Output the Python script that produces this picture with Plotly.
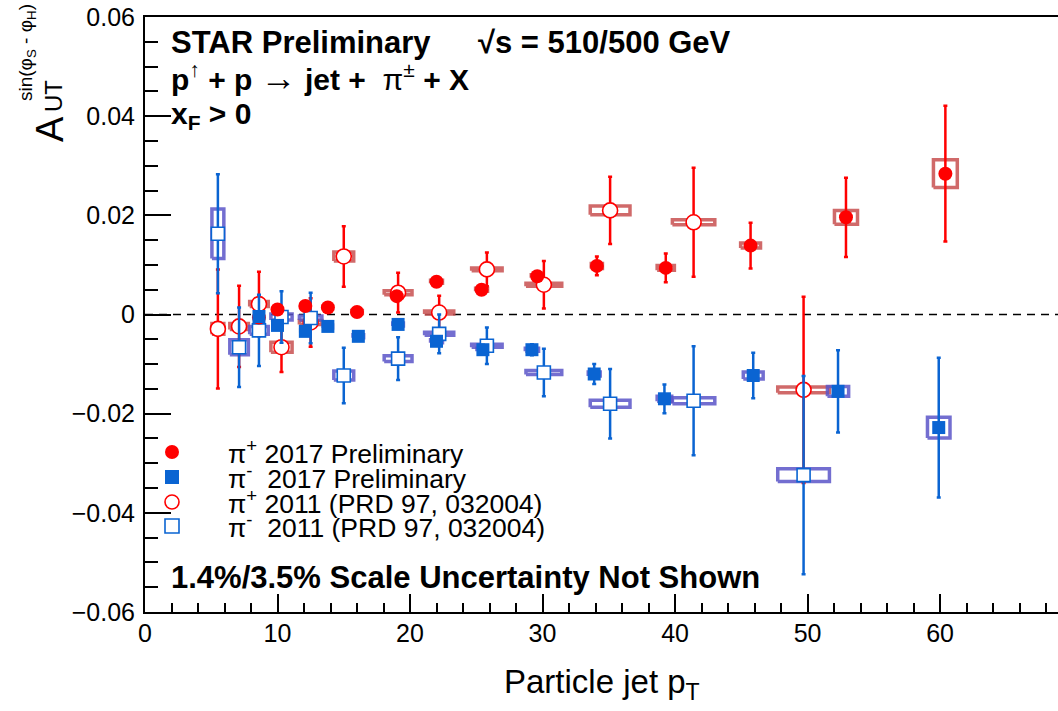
import plotly.graph_objects as go

# ---------------- data ----------------
# 2017 preliminary, pi+
pip17_x = [8.6, 10.0, 12.1, 13.8, 16.0, 19.0, 22.0, 25.4, 29.6, 34.1, 39.3, 45.7, 52.9, 60.4]
pip17_y = [-0.0006, 0.0010, 0.0017, 0.0014, 0.0005, 0.0037, 0.0066, 0.0050, 0.0077, 0.0098, 0.0094, 0.0139, 0.0196, 0.0284]
pip17_stat = [0.0007, 0.0007, 0.0007, 0.0008, 0.0008, 0.0008, 0.0008, 0.0009, 0.0010, 0.0019, 0.0029, 0.0046, 0.0080, 0.0137]
pip17_sysy = [0.0003, 0.0003, 0.0003, 0.0003, 0.0003, 0.0003, 0.0003, 0.0003, 0.0003, 0.0005, 0.0005, 0.0005, 0.0014, 0.0028]
pip17_sysx = [0.30, 0.30, 0.35, 0.35, 0.40, 0.40, 0.45, 0.45, 0.45, 0.42, 0.65, 0.75, 0.87, 0.90]

# 2017 preliminary, pi-
pim17_x = [8.6, 10.0, 12.1, 13.8, 16.1, 19.1, 22.0, 25.5, 29.2, 33.9, 39.2, 45.9, 52.3, 59.9]
pim17_y = [-0.0004, -0.0022, -0.0034, -0.0024, -0.0044, -0.0020, -0.0054, -0.0071, -0.0071, -0.0120, -0.0170, -0.0123, -0.0155, -0.0228]
pim17_stat = [0.0007, 0.0008, 0.0008, 0.0008, 0.0009, 0.0009, 0.0009, 0.0010, 0.0011, 0.0020, 0.0029, 0.0046, 0.0083, 0.0141]
pim17_sysy = [0.0003, 0.0003, 0.0003, 0.0003, 0.0003, 0.0003, 0.0003, 0.0003, 0.0003, 0.0004, 0.0005, 0.0007, 0.0010, 0.0021]
pim17_sysx = [0.30, 0.30, 0.35, 0.35, 0.40, 0.40, 0.45, 0.45, 0.50, 0.45, 0.55, 0.75, 0.80, 0.85]

# 2011 (PRD 97, 032004)
x11 = [5.5, 7.1, 8.6, 10.3, 12.5, 15.0, 19.1, 22.2, 25.8, 30.1, 35.1, 41.4, 49.7]
x11_sys = [0.45, 0.70, 0.70, 0.80, 0.85, 0.75, 1.05, 1.10, 1.15, 1.35, 1.50, 1.60, 1.95]
pip11_y = [-0.0029, -0.0024, 0.0021, -0.0066, -0.0016, 0.0117, 0.0044, 0.0004, 0.0091, 0.0060, 0.0210, 0.0186, -0.0152]
pip11_stat = [0.0120, 0.0082, 0.0065, 0.0050, 0.0049, 0.0061, 0.0040, 0.0034, 0.0034, 0.0048, 0.0068, 0.0110, 0.0188]
pip11_sysy = [0.0011, 0.0006, 0.0005, 0.0010, 0.0004, 0.0009, 0.0004, 0.0003, 0.0003, 0.0003, 0.0009, 0.0005, 0.0006]
pim11_y = [0.0163, -0.0066, -0.0032, -0.0005, -0.0007, -0.0123, -0.0089, -0.0039, -0.0063, -0.0117, -0.0180, -0.0174, -0.0324]
pim11_stat = [0.0120, 0.0080, 0.0072, 0.0052, 0.0051, 0.0056, 0.0043, 0.0039, 0.0037, 0.0048, 0.0070, 0.0110, 0.0200]
pim11_sysy = [0.0050, 0.0015, 0.0008, 0.0006, 0.0004, 0.0009, 0.0006, 0.0003, 0.0003, 0.0004, 0.0007, 0.0006, 0.0013]

x_ticks = [0, 10, 20, 30, 40, 50, 60]
y_ticks = [-0.06, -0.04, -0.02, 0, 0.02, 0.04, 0.06]
y_ticktext = ["\u22120.06", "\u22120.04", "\u22120.02", "0", "0.02", "0.04", "0.06"]

legend_labels = [
    "\u03c0<sup>+</sup> 2017 Preliminary",
    "\u03c0<sup>-</sup>  2017 Preliminary",
    "\u03c0<sup>+</sup> 2011 (PRD 97, 032004)",
    "\u03c0<sup>-</sup>  2011 (PRD 97, 032004)",
]

# ---------------- styles ----------------
RED = "#ff0000"
BLUE = "#0a64d2"
RED_BOX = "rgba(200,80,80,0.85)"
BLUE_BOX = "rgba(90,85,200,0.85)"
FONT = "Liberation Sans, Arial, Helvetica, sans-serif"

W, H = 1058, 711
PL, PT, PR, PB = 145, 17, 1058, 612          # plot area in window pixels
L, T, R, B = PL, PT, W - PR, H - PB
PW, PH = PR - PL, PB - PT


def px_x(p):
    return (p - PL) / PW


def px_y(p):
    return (PB - p) / PH


def box_path(xs, ys, dxs, dys):
    bx, by = [], []
    for x, y, dx, dy in zip(xs, ys, dxs, dys):
        bx += [x - dx, x + dx, x + dx, x - dx, x - dx, None]
        by += [y - dy, y - dy, y + dy, y + dy, y - dy, None]
    return bx, by


fig = go.Figure()

# systematic boxes
for xs, ys, dxs, dys, col in [
    (x11, pip11_y, x11_sys, pip11_sysy, RED_BOX),
    (x11, pim11_y, x11_sys, pim11_sysy, BLUE_BOX),
    (pip17_x, pip17_y, pip17_sysx, pip17_sysy, RED_BOX),
    (pim17_x, pim17_y, pim17_sysx, pim17_sysy, BLUE_BOX),
]:
    bx, by = box_path(xs, ys, dxs, dys)
    fig.add_trace(go.Scatter(x=bx, y=by, mode="lines", line=dict(color=col, width=3.5),
                             hoverinfo="skip", showlegend=False))

# 2011 pi+
fig.add_trace(go.Scatter(
    x=x11, y=pip11_y, mode="markers", showlegend=False,
    marker=dict(symbol="circle", size=15, color="white", line=dict(color=RED, width=1.6)),
    error_y=dict(type="data", array=pip11_stat, color=RED, thickness=2.5, width=2),
))
# 2011 pi-
fig.add_trace(go.Scatter(
    x=x11, y=pim11_y, mode="markers", showlegend=False,
    marker=dict(symbol="square", size=13, color="white", line=dict(color=BLUE, width=1.6)),
    error_y=dict(type="data", array=pim11_stat, color=BLUE, thickness=2.5, width=2),
))
# 2017 pi+
fig.add_trace(go.Scatter(
    x=pip17_x, y=pip17_y, mode="markers", showlegend=False,
    marker=dict(symbol="circle", size=14, color=RED, line=dict(width=0)),
    error_y=dict(type="data", array=pip17_stat, color=RED, thickness=2.5, width=2),
))
# 2017 pi-
fig.add_trace(go.Scatter(
    x=pim17_x, y=pim17_y, mode="markers", showlegend=False,
    marker=dict(symbol="square", size=13, color=BLUE, line=dict(width=0)),
    error_y=dict(type="data", array=pim17_stat, color=BLUE, thickness=2.5, width=2),
))

shapes = [
    dict(type="line", xref="paper", yref="y", x0=0, x1=1, y0=0, y1=0,
         line=dict(color="black", width=1.5, dash="8px,6px"), layer="below"),
]

# legend symbols (pixel-sized shapes)
leg_y = [452, 477, 502, 526]
leg_sym = [("circle", RED, RED), ("rect", BLUE, BLUE), ("circle", "white", RED), ("rect", "white", BLUE)]
for yy, (kind, fill, line_c) in zip(leg_y, leg_sym):
    shapes.append(dict(type=kind, xref="paper", yref="paper", xsizemode="pixel", ysizemode="pixel",
                       xanchor=px_x(172), yanchor=px_y(yy), x0=-7, x1=7, y0=-7, y1=7,
                       fillcolor=fill, line=dict(color=line_c, width=1.6 if fill == "white" else 0)))

annotations = []


def ann(text, x, y, size, xanchor="left", yanchor="middle", angle=0):
    annotations.append(dict(text=text, x=px_x(x), y=px_y(y), xref="paper", yref="paper",
                            xanchor=xanchor, yanchor=yanchor, showarrow=False, textangle=angle,
                            font=dict(family=FONT, size=size, color="black")))


ann("<b>STAR Preliminary</b>", 169, 43, 31)
ann("<b>\u221as = 510/500 GeV</b>", 476, 43, 31)
ann("<b>p</b><sup>\u2191</sup><b> + p </b><span style=\"font-size:36px\">\u2192</span><b> jet + </b> "
    "\u03c0<sup>\u00b1</sup><b> + X</b>", 169, 78, 30)
ann("<b>x<sub>F</sub> > 0</b>", 169, 116, 30)
ann("<b>1.4%/3.5% Scale Uncertainty Not Shown</b>", 169, 577, 31)
for yy, lab in zip(leg_y, legend_labels):
    ann(lab, 226, yy, 26.5)

# axis titles
ann("Particle jet p<sub>T</sub>", 602, 684, 33, xanchor="center")
ann("A", 50, 129, 38, xanchor="center", angle=-90)
ann("UT", 54, 96, 24, xanchor="center", angle=-90)
ann("sin(\u03c6<sub>S</sub> - \u03c6<sub>H</sub>)", 27, 53, 19, xanchor="center", angle=-90)

fig.update_layout(
    width=W, height=H,
    margin=dict(l=L, r=R, t=T, b=B, pad=0),
    paper_bgcolor="white", plot_bgcolor="white",
    font=dict(family=FONT, color="black"),
    shapes=shapes, annotations=annotations,
    showlegend=False,
    xaxis=dict(range=[0, 68.9], tickmode="array", tickvals=x_ticks, ticks="inside", ticklen=18,
               tickwidth=1.5, tickcolor="black", showline=True, linewidth=2, linecolor="black",
               mirror=True, showgrid=False, zeroline=False, tickfont=dict(size=25),
               ticklabelstandoff=-2, ticklabeloverflow="allow",
               minor=dict(dtick=2, ticks="inside", ticklen=9, tickwidth=1.5, tickcolor="black", showgrid=False)),
    yaxis=dict(range=[-0.06, 0.06], tickmode="array", tickvals=y_ticks, ticktext=y_ticktext,
               ticks="inside", ticklen=26, tickwidth=1.5, tickcolor="black", showline=True,
               linewidth=2, linecolor="black", mirror=False, showgrid=False, zeroline=False,
               tickfont=dict(size=25), ticklabelstandoff=3, ticklabeloverflow="allow",
               minor=dict(dtick=0.005, ticks="inside", ticklen=13, tickwidth=1.5, tickcolor="black", showgrid=False)),
)

# remove the default 8px page margin so the figure fills the window exactly
fig.write_html("out.html", config={"displayModeBar": False},
               post_script="document.body.style.margin='0';document.body.style.overflow='hidden';")
